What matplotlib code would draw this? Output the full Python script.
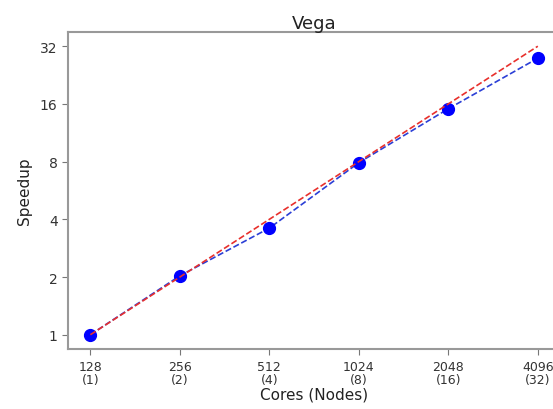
import numpy as np
import matplotlib.pyplot as plt

# data
cores = [128, 256, 512, 1024, 2048, 4096]
nodes = [1, 2, 4, 8, 16, 32]
speedup = [1.0, 2.03, 3.6, 7.9, 15.1, 27.7]
ideal = [1, 2, 4, 8, 16, 32]

fig = plt.figure(figsize=(5.53, 4.1), dpi=100)
# right edge of the axes runs past the image, as in the original crop
ax = fig.add_axes([0.123, 0.146, 0.89, 0.774])

ax.plot(cores, speedup, linestyle='--', color='#2b3fd6', linewidth=1.2,
        marker='o', markersize=8.5, markerfacecolor='#0000ff', markeredgecolor='#0000ff')
ax.plot(cores, ideal, linestyle='--', color='#e8302c', linewidth=1.2)

ax.set_xscale('log', base=2)
ax.set_yscale('log', base=2)
ax.set_xticks(cores)
ax.set_xticklabels([f'{c}\n({n})' for c, n in zip(cores, nodes)], fontsize=9, color='#333333',
                   linespacing=1.0)
ax.minorticks_off()
ax.set_yticks(ideal)
ax.set_yticklabels([str(v) for v in ideal], fontsize=10, color='#333333')

for s in ax.spines.values():
    s.set_color('#999999')
    s.set_linewidth(1.5)
ax.spines['right'].set_visible(False)
ax.tick_params(color='#777777', length=4)

ax.set_title('Vega', fontsize=13, color='#222222', pad=2)
ax.set_xlabel('Cores (Nodes)', fontsize=11, color='#222222', labelpad=1)
ax.set_ylabel('Speedup', fontsize=11, color='#222222', labelpad=6)

fig.savefig('out.png', dpi=100)
